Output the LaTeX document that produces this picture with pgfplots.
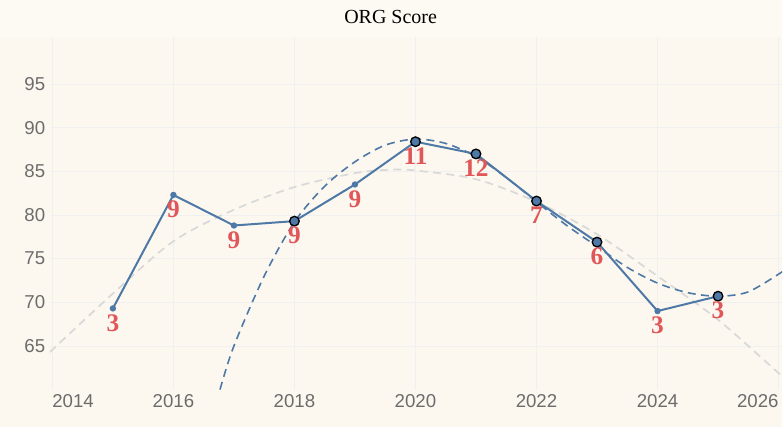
\documentclass[border=0pt]{standalone}
\usepackage{fontspec}
\setmainfont{Liberation Serif}
\newfontfamily\tickfont{Liberation Sans}
\usepackage{pgfplots}
\pgfplotsset{compat=1.18}
\definecolor{bg}{HTML}{FCF8EF}
\definecolor{bgtop}{HTML}{FDFAF3}
\definecolor{ln}{HTML}{4E79A7}
\definecolor{lab}{HTML}{E15759}
\begin{document}
\begin{tikzpicture}[x=0.75pt,y=0.75pt]
\fill[bg] (-50,-37) rectangle (733,353);
\fill[bgtop] (-50,353) rectangle (733,390);
\node[font=\fontsize{15}{17}\selectfont] at (341,373) {ORG Score};
\begin{axis}[scale only axis, width=549.75pt, height=264.75pt,
  xmin=2013.96, xmax=2026.06, ymin=60, ymax=100.4,
  axis line style={draw=none}, tick style={draw=none},
  xtick={2016,2018,...,2024}, ytick={65,70,...,95},
  extra x ticks={2014,2026},
  extra x tick labels={\makebox[0pt][l]{2014},\makebox[0pt][r]{2026}},
  xticklabel style={font=\tickfont\fontsize{14}{16}\selectfont, text=gray!85!black},
  yticklabel style={font=\tickfont\fontsize{14}{16}\selectfont, text=gray!85!black},
  extra x tick style={xticklabel style={font=\tickfont\fontsize{14}{16}\selectfont, text=gray!85!black}},
  /pgf/number format/assume math mode=true,
  /pgf/number format/1000 sep={},
  grid=major, major grid style={draw=gray!12, line width=0.6pt},
  clip=true]
\addplot[gray!30, line width=1.3pt, smooth, dash pattern=on 6pt off 4pt] coordinates {
(2013.96,64.3)(2015,71)(2016,77)(2017,80.6)(2018,83.2)(2019,84.8)(2019.6,85.2)(2020,85.1)(2021,84.1)(2022,81.5)(2023,77.8)(2024,73)(2025,68)(2026.06,61.5)};
\addplot[ln, line width=1.2pt, smooth, dash pattern=on 6pt off 4pt] coordinates {
(2016.77,60)(2017,65)(2017.5,73)(2018,79.2)(2018.5,83.3)(2019,86.1)(2019.5,88)(2020,88.7)(2020.5,88.2)(2021,86.7)(2021.5,84.3)(2022,81.5)(2022.5,78.8)(2023,76.4)(2023.5,74)(2024,72.2)(2024.5,71.1)(2025,70.7)(2025.5,71.2)(2026.06,73.5)};
\addplot[ln, line width=1.5pt, mark=*, mark size=1.6pt] coordinates {
(2015,69.3)(2016,82.3)(2017,78.8)(2018,79.3)(2019,83.5)(2020,88.4)(2021,87.0)(2022,81.6)(2023,76.9)(2024,69.0)(2025,70.7)};
\addplot[only marks, mark=*, mark size=3.6pt, mark options={fill=ln, draw=black, line width=1pt}] coordinates {
(2018,79.3)(2020,88.4)(2021,87.0)(2022,81.6)(2023,76.9)(2025,70.7)};
\addplot[draw=none, mark=none, nodes near coords, point meta=explicit symbolic,
  every node near coord/.style={anchor=north, text=lab, font=\bfseries\fontsize{19}{21}\selectfont, yshift=-1pt}]
 coordinates {
(2015,69.3)[3](2016,82.3)[9](2017,78.8)[9](2018,79.3)[9](2019,83.5)[9](2020,88.4)[11](2021,87.0)[12](2022,81.6)[7](2023,76.9)[6](2024,69.0)[3](2025,70.7)[3]};
\end{axis}
\end{tikzpicture}
\end{document}
